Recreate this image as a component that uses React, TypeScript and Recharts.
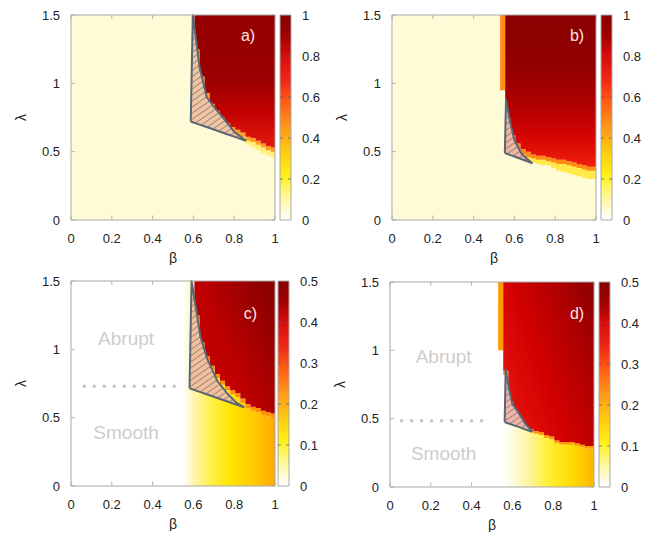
import {
  Area, Bar, BarChart, CartesianGrid, ComposedChart, ReferenceArea, ReferenceDot, ReferenceLine, XAxis, YAxis,
} from 'recharts';

const BETA_TICKS = [0, 0.2, 0.4, 0.6, 0.8, 1];
const LAMBDA_TICKS = [0, 0.5, 1, 1.5];
const SCALE_TICKS_AB = [0, 0.2, 0.4, 0.6, 0.8, 1];
const SCALE_TICKS_CD = [0, 0.1, 0.2, 0.3, 0.4, 0.5];

// left edges of the beta columns of the map (last entry closes the row)
const betaCols = [0.53, 0.555, 0.58, 0.605, 0.63, 0.655, 0.68, 0.705, 0.73, 0.755, 0.78, 0.805, 0.83, 0.855, 0.88, 0.905, 0.93, 0.955, 0.98, 1.0];

// lambda where each colour band starts, column by column
const redA = [1.5, 1.5, 1.5, 1.25, 1.05, 0.93, 0.85, 0.8, 0.75, 0.71, 0.68, 0.66, 0.64, 0.61, 0.6, 0.58, 0.56, 0.54, 0.53, 0.53];
const orangeA = [1.5, 1.5, 1.5, 1.22, 1.0, 0.89, 0.81, 0.76, 0.71, 0.68, 0.65, 0.63, 0.61, 0.58, 0.57, 0.55, 0.53, 0.51, 0.5, 0.5];
const yellowA = [1.5, 1.5, 1.5, 1.2, 0.98, 0.86, 0.78, 0.73, 0.68, 0.65, 0.62, 0.6, 0.58, 0.55, 0.53, 0.51, 0.49, 0.47, 0.46, 0.46];

const redB = [1.5, 0.75, 0.62, 0.56, 0.52, 0.5, 0.48, 0.47, 0.47, 0.46, 0.45, 0.44, 0.44, 0.43, 0.42, 0.41, 0.4, 0.39, 0.39, 0.39];
const orangeB = [0.95, 0.72, 0.58, 0.52, 0.48, 0.46, 0.45, 0.44, 0.44, 0.43, 0.42, 0.41, 0.41, 0.4, 0.39, 0.38, 0.37, 0.36, 0.36, 0.36];
const yellowB = [0.95, 0.7, 0.55, 0.5, 0.46, 0.43, 0.42, 0.41, 0.4, 0.4, 0.38, 0.36, 0.35, 0.34, 0.33, 0.32, 0.31, 0.3, 0.3, 0.3];

const redC = [1.5, 1.5, 1.5, 1.25, 1.05, 0.95, 0.88, 0.82, 0.77, 0.73, 0.7, 0.68, 0.64, 0.6, 0.58, 0.57, 0.55, 0.54, 0.53, 0.53];
const orangeC = [1.5, 1.5, 1.5, 1.22, 1.02, 0.92, 0.85, 0.79, 0.74, 0.7, 0.67, 0.65, 0.61, 0.57, 0.55, 0.54, 0.52, 0.51, 0.5, 0.5];

const redD = [1.5, 0.85, 0.62, 0.54, 0.47, 0.44, 0.42, 0.41, 0.4, 0.38, 0.37, 0.34, 0.33, 0.33, 0.33, 0.32, 0.31, 0.3, 0.3, 0.3];
const orangeD = [1.0, 0.82, 0.58, 0.51, 0.45, 0.42, 0.4, 0.39, 0.38, 0.36, 0.35, 0.32, 0.31, 0.31, 0.31, 0.3, 0.29, 0.28, 0.28, 0.28];

// hatched coexistence region: [beta, lower lambda, upper lambda]
const hatchA = [[0.587, 0.72, 0.72], [0.597, 0.715, 1.5], [0.63, 0.698, 1.12], [0.665, 0.68, 0.9], [0.7, 0.662, 0.83], [0.755, 0.633, 0.73], [0.8, 0.61, 0.645], [0.837, 0.59, 0.605], [0.858, 0.58, 0.58]];
const hatchB = [[0.553, 0.49, 0.49], [0.559, 0.487, 0.88], [0.58, 0.475, 0.71], [0.6, 0.465, 0.585], [0.633, 0.446, 0.49], [0.66, 0.431, 0.45], [0.688, 0.415, 0.415]];
const hatchC = [[0.581, 0.715, 0.715], [0.591, 0.71, 1.5], [0.635, 0.687, 1.09], [0.668, 0.67, 0.93], [0.717, 0.644, 0.77], [0.767, 0.618, 0.675], [0.81, 0.595, 0.61], [0.849, 0.575, 0.575]];
const hatchD = [[0.562, 0.475, 0.475], [0.567, 0.472, 0.86], [0.585, 0.463, 0.706], [0.6, 0.455, 0.608], [0.634, 0.438, 0.535], [0.665, 0.42, 0.46], [0.699, 0.404, 0.404]];

// dotted Abrupt/Smooth divider: [beta from, beta to, lambda]
const dividerC = [0.065, 0.515, 0.73];
const dividerD = [0.057, 0.497, 0.485];

const scaleBarAB = [{ k: 'scale', v: 1 }];
const scaleBarCD = [{ k: 'scale', v: 0.5 }];

const FONT = '"Liberation Sans", Arial, Helvetica, sans-serif';
const PLOT_W = 204;
const PLOT_H = 205;

type Stop = [number, string];

function buildRows(red: number[], orange: number[], yellow: number[]) {
  return betaCols.map((b, i) => ({
    b,
    field: [0, orange[i]],
    yellow: [yellow[i], orange[i]],
    orange: [orange[i], red[i]],
    red: [red[i], 1.5],
  }));
}

interface PanelProps {
  id: string;
  left: number;
  top: number;
  tag: [string, number, number];
  rows: ReturnType<typeof buildRows>;
  hatch: number[][];
  bg: string;
  redGrad: { x1: number; y1: number; x2: number; y2: number; stops: Stop[] };
  fieldStops?: Stop[];
  yellow: string;
  orange: string;
  hatchFill: string;
  divider?: number[];
  regimes?: [number, number, number];
}

function Panel(p: PanelProps) {
  const hatchRows = p.hatch.map(([b, lo, hi]) => ({ b, r: [lo, hi] }));
  const tickStyle = { fontSize: 13, fill: '#222', fontFamily: FONT };
  return (
    <div style={{ position: 'absolute', left: p.left - 60, top: p.top - 10 }}>
      <ComposedChart width={60 + PLOT_W + 6} height={10 + PLOT_H + 45} margin={{ top: 10, right: 6, bottom: 0, left: 10 }}>
        <defs>
          <linearGradient id={`red-${p.id}`} x1={p.redGrad.x1} y1={p.redGrad.y1} x2={p.redGrad.x2} y2={p.redGrad.y2}>
            {p.redGrad.stops.map(([o, c]) => <stop key={o} offset={o} stopColor={c} />)}
          </linearGradient>
          {p.fieldStops && (
            <linearGradient id={`field-${p.id}`} x1={0} y1={0} x2={1} y2={0}>
              {p.fieldStops.map(([o, c]) => <stop key={o} offset={o} stopColor={c} />)}
            </linearGradient>
          )}
          <pattern id={`hatch-${p.id}`} patternUnits="userSpaceOnUse" width={5} height={5} patternTransform="rotate(-35)">
            <rect width={5} height={5} fill={p.hatchFill} />
            <line x1={0} y1={2.5} x2={5} y2={2.5} stroke="#6d7280" strokeWidth={0.7} />
          </pattern>
        </defs>
        {/* inward tick marks, gnuplot style */}
        <CartesianGrid fill={p.bg} stroke="#b4b4b4" strokeDasharray="4 196.5" />
        <XAxis
          type="number" dataKey="b" domain={[0, 1]} ticks={BETA_TICKS} height={45}
          axisLine={false} tickLine={false} tickSize={6} tickMargin={8} tick={tickStyle}
          label={{ value: 'β', position: 'insideBottom', offset: 2, fontSize: 14, fill: '#222', fontFamily: FONT }}
        />
        <YAxis
          type="number" domain={[0, 1.5]} ticks={LAMBDA_TICKS} width={50}
          axisLine={false} tickLine={false} tickSize={6} tickMargin={5} tick={tickStyle}
          label={{ value: 'λ', angle: -90, position: 'insideLeft', offset: 0, fontSize: 14, fill: '#222', fontFamily: FONT, style: { textAnchor: 'middle' } }}
        />
        {p.fieldStops && (
          <Area data={p.rows} dataKey="field" type="stepAfter" fill={`url(#field-${p.id})`} fillOpacity={1} stroke="none" dot={false} activeDot={false} isAnimationActive={false} />
        )}
        <Area data={p.rows} dataKey="yellow" type="stepAfter" fill={p.yellow} fillOpacity={1} stroke="none" dot={false} activeDot={false} isAnimationActive={false} />
        <Area data={p.rows} dataKey="orange" type="stepAfter" fill={p.orange} fillOpacity={1} stroke="none" dot={false} activeDot={false} isAnimationActive={false} />
        <Area data={p.rows} dataKey="red" type="stepAfter" fill={`url(#red-${p.id})`} fillOpacity={1} stroke="none" dot={false} activeDot={false} isAnimationActive={false} />
        <Area data={hatchRows} dataKey="r" type="linear" fill={`url(#hatch-${p.id})`} fillOpacity={1} stroke="#5b6674" strokeWidth={2} strokeLinejoin="round" dot={false} activeDot={false} isAnimationActive={false} />
        {p.divider && (
          <ReferenceLine
            segment={[{ x: p.divider[0], y: p.divider[2] }, { x: p.divider[1], y: p.divider[2] }]}
            stroke="#c4c4c4" strokeWidth={3.5} strokeDasharray="0 10" strokeLinecap="round"
          />
        )}
        {p.regimes && (
          <ReferenceDot x={p.regimes[0]} y={p.regimes[1]} r={0} stroke="none" fill="none"
            label={{ value: 'Abrupt', position: 'center', fontSize: 19, fill: '#cdcdcd', fontFamily: FONT }} />
        )}
        {p.regimes && (
          <ReferenceDot x={p.regimes[0]} y={p.regimes[2]} r={0} stroke="none" fill="none"
            label={{ value: 'Smooth', position: 'center', fontSize: 19, fill: '#cdcdcd', fontFamily: FONT }} />
        )}
        <ReferenceDot x={p.tag[1]} y={p.tag[2]} r={0} stroke="none" fill="none"
          label={{ value: p.tag[0], position: 'center', fontSize: 16, fill: '#fbe4e4', fontFamily: FONT }} />
        <ReferenceArea x1={0} x2={1} y1={0} y2={1.5} fill="none" stroke="#a8a8a8" strokeWidth={1} />
      </ComposedChart>
    </div>
  );
}

const SCALE_STOPS: Stop[] = [
  [0, '#880000'], [0.1, '#a00000'], [0.2, '#d80c0c'], [0.32, '#f02818'], [0.42, '#ff5a14'],
  [0.55, '#ff9a1a'], [0.68, '#ffcf10'], [0.78, '#fff018'], [0.9, '#fff8a8'], [1, '#ffffff'],
];

function ColorBar({ id, left, top, data, max, ticks }: { id: string; left: number; top: number; data: { k: string; v: number }[]; max: number; ticks: number[] }) {
  return (
    <div style={{ position: 'absolute', left: left - 4, top: top - 10 }}>
      <BarChart width={4 + 11 + 36} height={10 + PLOT_H + 45} data={data} margin={{ top: 10, right: 0, bottom: 45, left: 4 }} barCategoryGap={0}>
        <defs>
          <linearGradient id={`scale-${id}`} x1={0} y1={0} x2={0} y2={1}>
            {SCALE_STOPS.map(([o, c]) => <stop key={o} offset={o} stopColor={c} />)}
          </linearGradient>
        </defs>
        <XAxis dataKey="k" hide />
        <YAxis
          orientation="right" domain={[0, max]} ticks={ticks} width={36}
          axisLine={false} tickLine={false} tickSize={6} tickMargin={5}
          tick={{ fontSize: 13, fill: '#222', fontFamily: FONT, textAnchor: 'start' }}
        />
        <Bar dataKey="v" fill={`url(#scale-${id})`} stroke="#a8a8a8" strokeWidth={1} isAnimationActive={false} />
        {ticks.slice(1, -1).map((t) => (
          <ReferenceLine key={t} y={t} stroke="#666" strokeWidth={0.8} strokeDasharray="3 5 3" />
        ))}
      </BarChart>
    </div>
  );
}

const redGradAB = (stops: Stop[]) => ({ x1: 0, y1: 0, x2: 0, y2: 1, stops });
const redGradCD = (stops: Stop[]) => ({ x1: 0, y1: 0.8, x2: 1, y2: 0.2, stops });

export default function App() {
  return (
    <div style={{ position: 'fixed', left: 0, top: 0, width: 667, height: 537, background: '#fff', fontFamily: FONT }}>
      <Panel
        id="a" left={71} top={15} tag={['a)', 0.868, 1.353]}
        rows={buildRows(redA, orangeA, yellowA)} hatch={hatchA} bg="#fffbd6"
        redGrad={redGradAB([[0, '#950000'], [0.5, '#9c0000'], [0.72, '#c00000'], [1, '#e61a0e']])}
        yellow="#fff07a" orange="#ff9c1c" hatchFill="#f3c4a0"
      />
      <ColorBar id="a" left={280} top={15} data={scaleBarAB} max={1} ticks={SCALE_TICKS_AB} />
      <Panel
        id="b" left={392} top={15} tag={['b)', 0.907, 1.353]}
        rows={buildRows(redB, orangeB, yellowB)} hatch={hatchB} bg="#fffbd6"
        redGrad={redGradAB([[0, '#8a0000'], [0.35, '#930000'], [0.6, '#b20000'], [0.8, '#d60404'], [1, '#f0200c']])}
        yellow="#ffea4a" orange="#ff8c12" hatchFill="#f3b4a0"
      />
      <ColorBar id="b" left={601} top={15} data={scaleBarAB} max={1} ticks={SCALE_TICKS_AB} />
      <Panel
        id="c" left={71} top={281} tag={['c)', 0.88, 1.265]}
        rows={buildRows(redC, orangeC, orangeC)} hatch={hatchC} bg="#ffffff"
        redGrad={redGradCD([[0, '#d40000'], [0.5, '#bc0000'], [1, '#8c0000']])}
        fieldStops={[[0, '#ffffff'], [0.04, '#ffffff'], [0.15, '#fff5b0'], [0.32, '#fff050'], [0.53, '#ffe600'], [0.79, '#ffc800'], [1, '#ffa800']]}
        yellow="#ffe600" orange="#ff9400" hatchFill="#f3c09a"
        divider={dividerC} regimes={[0.27, 1.08, 0.39]}
      />
      <ColorBar id="c" left={278} top={281} data={scaleBarCD} max={0.5} ticks={SCALE_TICKS_CD} />
      <Panel
        id="d" left={390} top={282} tag={['d)', 0.917, 1.27]}
        rows={buildRows(redD, orangeD, orangeD)} hatch={hatchD} bg="#ffffff"
        redGrad={redGradCD([[0, '#e81810'], [0.45, '#d20000'], [0.8, '#b00000'], [1, '#940000']])}
        fieldStops={[[0, '#ffffff'], [0.04, '#ffffff'], [0.15, '#fffbe0'], [0.32, '#fff5a0'], [0.53, '#ffee30'], [0.79, '#ffd800'], [1, '#ffb400']]}
        yellow="#ffee30" orange="#ff9c00" hatchFill="#f3b4a8"
        divider={dividerD} regimes={[0.263, 0.96, 0.25]}
      />
      <ColorBar id="d" left={599} top={282} data={scaleBarCD} max={0.5} ticks={SCALE_TICKS_CD} />
    </div>
  );
}
